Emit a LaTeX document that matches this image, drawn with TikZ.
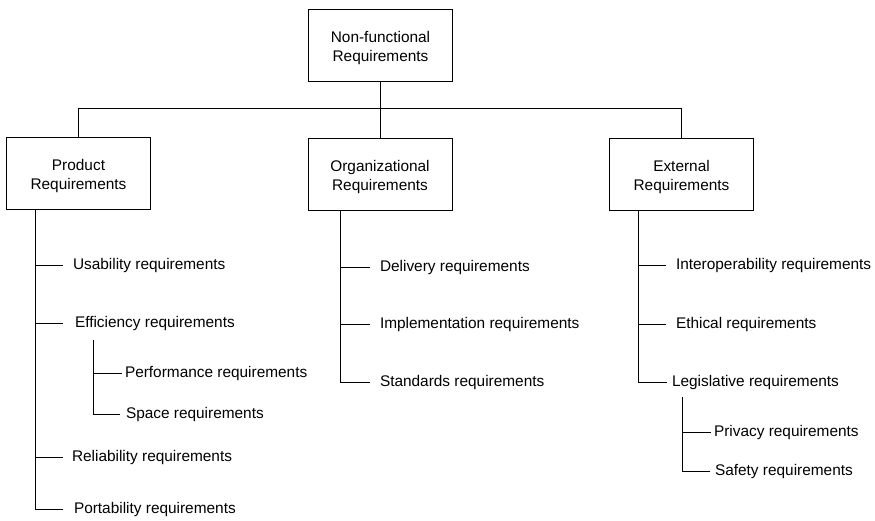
\documentclass[tikz,border=0pt]{standalone}
\usepackage{fontspec}
\setmainfont{Liberation Sans}
% two centred lines, set slightly below the middle of their box
\newcommand\boxlines[2]{\raisebox{-2.8pt}[\height][\depth]{\begin{tabular}{@{}c@{}}#1\\#2\end{tabular}}}
\begin{document}
\begin{tikzpicture}[x=1pt,y=-1pt,line width=1pt,
  box/.style={draw,minimum width=144pt,minimum height=72pt,inner sep=2pt,font=\fontsize{15.4}{19}\selectfont},
  leaf/.style={anchor=west,inner sep=0pt,text height=11pt,text depth=3pt,outer xsep=#1,font=\fontsize{15.4}{19}\selectfont},
  leaf/.default=10pt]
\useasboundingbox (0,0) rectangle (875,520);

% category boxes
\node[box] (top)  at (380.5,45)  {\boxlines{Non-functional}{Requirements}};
\node[box] (prod) at (78.5,173.5) {\boxlines{Product}{Requirements}};
\node[box] (org)  at (380,174)   {\boxlines{Organizational}{Requirements}};
\node[box] (ext)  at (681.5,174) {\boxlines{External}{Requirements}};

% connector bar below the root
\coordinate (bar) at (380.5,108.5);
\draw (top.south) -- (bar);
\draw (prod.north) |- (bar) -| (ext.north);
\draw (bar) -| (org.north);

% product requirements
\node[leaf=10pt] (use)  at (63,265) {Usability requirements};
\node[leaf=12pt] (eff)  at (63,323) {Efficiency requirements};
\node[leaf=3pt]  (perf) at (122,373) {Performance requirements};
\node[leaf=6pt]  (spc)  at (120,414) {Space requirements};
\node[leaf=9pt]  (rel)  at (63,457) {Reliability requirements};
\node[leaf=11pt] (port) at (63,509) {Portability requirements};

\coordinate (pT) at ([xshift=29.5pt]prod.south west);
\draw (pT) |- (port.west);
\foreach \n in {use,eff,rel} \draw (pT |- \n.west) -- (\n.west);
\coordinate (effT) at (93,340);
\draw (effT) |- (spc.west);
\draw (effT |- perf.west) -- (perf.west);

% organizational requirements
\node[leaf] (del)  at (370,267) {Delivery requirements};
\node[leaf] (impl) at (370,324) {Implementation requirements};
\node[leaf] (std)  at (370,382) {Standards requirements};

\coordinate (oT) at ([xshift=33pt]org.south west);
\draw (oT) |- (std.west);
\foreach \n in {del,impl} \draw (oT |- \n.west) -- (\n.west);

% external requirements
\node[leaf] (inter) at (666,265) {Interoperability requirements};
\node[leaf] (eth)   at (666,324) {Ethical requirements};
\node[leaf=5pt] (leg) at (667,382) {Legislative requirements};
\node[leaf=3pt] (priv) at (711,432) {Privacy requirements};
\node[leaf=5pt] (safe) at (710,471) {Safety requirements};

\coordinate (eT) at ([xshift=29.5pt]ext.south west);
\draw (eT) |- (leg.west);
\foreach \n in {inter,eth} \draw (eT |- \n.west) -- (\n.west);
\coordinate (legT) at (682,397);
\draw (legT) |- (safe.west);
\draw (legT |- priv.west) -- (priv.west);
\end{tikzpicture}
\end{document}
